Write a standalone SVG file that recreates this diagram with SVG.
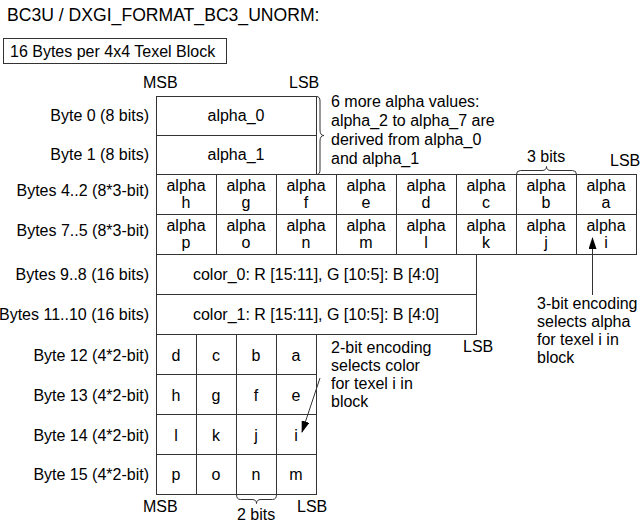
<svg xmlns="http://www.w3.org/2000/svg" width="643" height="524" viewBox="0 0 643 524">
<style>
text{font-family:"Liberation Sans",Arial,sans-serif;font-size:16px;fill:#000}
.t{font-size:17.6px}
.c{text-anchor:middle}
.r{text-anchor:end}
.box{fill:#fff;stroke:#333;stroke-width:1}
.ln{fill:none;stroke:#333;stroke-width:1}
</style>
<defs>
<marker id="ah" markerWidth="12" markerHeight="8" refX="11" refY="4" orient="auto" markerUnits="userSpaceOnUse" viewBox="0 0 12 8">
<path d="M0,0 L12,4 L0,8 Z" fill="#000"/>
</marker>
</defs>
<rect width="643" height="524" fill="#fff"/>
<g id="title"><text class="t" x="7" y="21">BC3U / DXGI_FORMAT_BC3_UNORM:</text></g>
<g id="blocksize"><rect class="box" x="3.5" y="38.5" width="223" height="25"/><text x="10" y="57">16 Bytes per 4x4 Texel Block</text></g>
<g id="bitorder-top"><text x="143" y="88">MSB</text><text x="289" y="88">LSB</text></g>
<g id="alpha-endpoints">
<rect class="box" x="156.5" y="96.5" width="160" height="78"/>
<line class="ln" x1="156.5" y1="135.5" x2="316.5" y2="135.5"/>
<text class="c" x="236" y="121">alpha_0</text>
<text class="c" x="236" y="160">alpha_1</text>
<text class="r" x="149" y="121">Byte 0 (8 bits)</text>
<text class="r" x="149" y="160">Byte 1 (8 bits)</text>
</g>
<g id="alpha-note">
<path class="ln" d="M316.5,96.5 Q320,96.5 320,101 L320,130 Q320,135.5 324,135.5 Q320,135.5 320,141 L320,170 Q320,174.5 316.5,174.5"/>
<text x="331" y="107">6 more alpha values:</text>
<text x="331" y="126">alpha_2 to alpha_7 are</text>
<text x="331" y="145">derived from alpha_0</text>
<text x="331" y="164">and alpha_1</text>
</g>
<g id="alpha-indices">
<rect class="box" x="156.5" y="174.5" width="480" height="80"/>
<path class="ln" d="M156.5,214.5 H636.5 M216.5,174.5 V254.5 M276.5,174.5 V254.5 M336.5,174.5 V254.5 M396.5,174.5 V254.5 M456.5,174.5 V254.5 M516.5,174.5 V254.5 M576.5,174.5 V254.5"/>
<text class="r" x="149" y="196">Bytes 4..2 (8*3-bit)</text>
<text class="r" x="149" y="236">Bytes 7..5 (8*3-bit)</text>
<text class="c" x="186" y="191">alpha</text><text class="c" x="186" y="208">h</text>
<text class="c" x="246" y="191">alpha</text><text class="c" x="246" y="208">g</text>
<text class="c" x="306" y="191">alpha</text><text class="c" x="306" y="208">f</text>
<text class="c" x="366" y="191">alpha</text><text class="c" x="366" y="208">e</text>
<text class="c" x="426" y="191">alpha</text><text class="c" x="426" y="208">d</text>
<text class="c" x="486" y="191">alpha</text><text class="c" x="486" y="208">c</text>
<text class="c" x="546" y="191">alpha</text><text class="c" x="546" y="208">b</text>
<text class="c" x="606" y="191">alpha</text><text class="c" x="606" y="208">a</text>
<text class="c" x="186" y="231">alpha</text><text class="c" x="186" y="248">p</text>
<text class="c" x="246" y="231">alpha</text><text class="c" x="246" y="248">o</text>
<text class="c" x="306" y="231">alpha</text><text class="c" x="306" y="248">n</text>
<text class="c" x="366" y="231">alpha</text><text class="c" x="366" y="248">m</text>
<text class="c" x="426" y="231">alpha</text><text class="c" x="426" y="248">l</text>
<text class="c" x="486" y="231">alpha</text><text class="c" x="486" y="248">k</text>
<text class="c" x="546" y="231">alpha</text><text class="c" x="546" y="248">j</text>
<text class="c" x="606" y="231">alpha</text><text class="c" x="606" y="248">i</text>
</g>
<g id="three-bits">
<path class="ln" d="M516.5,174.5 Q516.5,170.5 520.5,170.5 L542,170.5 Q546.5,170.5 546.5,166.5 Q546.5,170.5 551,170.5 L572.5,170.5 Q576.5,170.5 576.5,174.5"/>
<text x="527" y="162">3 bits</text>
<text x="610" y="166">LSB</text>
</g>
<g id="alpha-note2">
<text x="537" y="309">3-bit encoding</text>
<text x="537" y="327">selects alpha</text>
<text x="537" y="345">for texel i in</text>
<text x="537" y="363">block</text>
</g>
<g id="color-endpoints">
<rect class="box" x="156.5" y="254.5" width="320" height="80"/>
<line class="ln" x1="156.5" y1="294.5" x2="476.5" y2="294.5"/>
<text class="c" x="316" y="280">color_0: R [15:11], G [10:5]: B [4:0]</text>
<text class="c" x="316" y="320">color_1: R [15:11], G [10:5]: B [4:0]</text>
<text class="r" x="149" y="280">Bytes 9..8 (16 bits)</text>
<text class="r" x="149" y="320">Bytes 11..10 (16 bits)</text>
<text x="463" y="352">LSB</text>
</g>
<g id="color-indices">
<rect class="box" x="156.5" y="334.5" width="160" height="160"/>
<path class="ln" d="M156.5,374.5 H316.5 M156.5,414.5 H316.5 M156.5,454.5 H316.5 M196.5,334.5 V494.5 M236.5,334.5 V494.5 M276.5,334.5 V494.5"/>
<text class="r" x="149" y="361">Byte 12 (4*2-bit)</text>
<text class="r" x="149" y="401">Byte 13 (4*2-bit)</text>
<text class="r" x="149" y="441">Byte 14 (4*2-bit)</text>
<text class="r" x="149" y="480">Byte 15 (4*2-bit)</text>
<text class="c" x="176" y="361">d</text><text class="c" x="216" y="361">c</text><text class="c" x="256" y="361">b</text><text class="c" x="296" y="361">a</text>
<text class="c" x="176" y="401">h</text><text class="c" x="216" y="401">g</text><text class="c" x="256" y="401">f</text><text class="c" x="296" y="401">e</text>
<text class="c" x="176" y="441">l</text><text class="c" x="216" y="441">k</text><text class="c" x="256" y="441">j</text><text class="c" x="296" y="441">i</text>
<text class="c" x="176" y="480">p</text><text class="c" x="216" y="480">o</text><text class="c" x="256" y="480">n</text><text class="c" x="296" y="480">m</text>
</g>
<g id="color-note">
<text x="331" y="353">2-bit encoding</text>
<text x="331" y="371">selects color</text>
<text x="331" y="389">for texel i in</text>
<text x="331" y="407">block</text>
</g>
<g id="bitorder-bottom">
<path class="ln" d="M236.5,494.5 Q236.5,499.5 240.5,499.5 L252,499.5 Q256.5,499.5 256.5,503.5 Q256.5,499.5 261,499.5 L272.5,499.5 Q276.5,499.5 276.5,494.5"/>
<text x="143" y="512">MSB</text>
<text x="297" y="512">LSB</text>
<text x="237" y="520">2 bits</text>
</g>
<g id="connectors">
<line class="ln" x1="592.5" y1="295" x2="592.5" y2="238" marker-end="url(#ah)"/>
<line class="ln" x1="320" y1="378" x2="302" y2="432" marker-end="url(#ah)"/>
</g>
</svg>
